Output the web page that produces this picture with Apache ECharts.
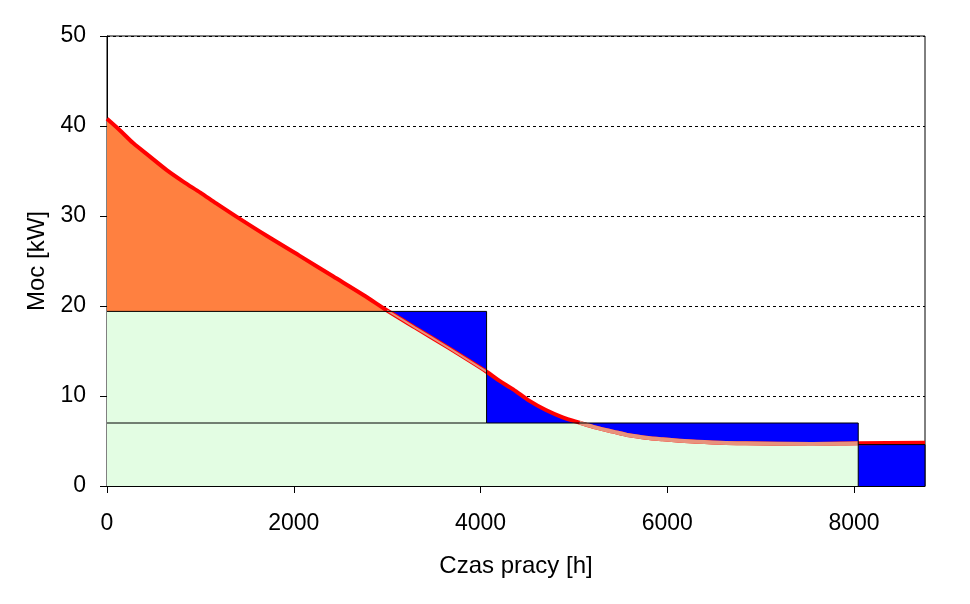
<!DOCTYPE html>
<html>
<head>
<meta charset="utf-8">
<script src="https://cdn.jsdelivr.net/npm/echarts@6/dist/echarts.min.js"></script>
<style>
html, body { margin: 0; padding: 0; background: #fff; }
#chart { width: 970px; height: 604px; }
</style>
</head>
<body>
<div id="chart"></div>
<script>
// uporządkowany wykres mocy (h -> kW)
var curveHours = [0, 140, 280, 460, 640, 820, 1000, 1170, 1390, 1710, 2060, 2420, 2750, 3000, 3300, 3650, 4065, 4200, 4350, 4520, 4700, 4880, 5060, 5240, 5420, 5590, 5770, 5950, 6130, 6310, 6840, 7550, 8045, 8760];
var curveKW = [40.8, 39.5, 38.1, 36.6, 35.1, 33.8, 32.6, 31.4, 29.9, 27.8, 25.6, 23.3, 21.2, 19.5, 17.6, 15.4, 12.7, 11.7, 10.74, 9.48, 8.44, 7.63, 7.04, 6.48, 6.04, 5.63, 5.37, 5.19, 5.04, 4.93, 4.74, 4.67, 4.74, 4.8];

// schodki mocy zamówionej
var stepEdges = [0, 4065, 8045, 8760];
var stepKW = [19.4, 7.0, 4.6];
var greenEnd = 8045;      // koniec zielonego pola
var orangeEnd = 3000;     // krzywa schodzi poniżej pierwszego schodka
var lowCross = 5060;      // krzywa schodzi poniżej drugiego schodka

var xTicks = { min: 0, max: 8760, interval: 2000 };
var yTicks = { min: 0, max: 50, interval: 10 };

var FONT = "'Liberation Sans', Arial, sans-serif";
var SMOOTH = 0.3;

function stepIndex(h) {
	for (var i = 0; i < stepKW.length; i++) {
		if (h < stepEdges[i + 1]) return i;
	}
	return stepKW.length - 1;
}

var curvePts = curveHours.map(function(h, i) { return [h, curveKW[i]]; });

var stepPts = [];
for (var i = 0; i < stepKW.length; i++) {
	stepPts.push([stepEdges[i], stepKW[i]], [stepEdges[i + 1], stepKW[i]]);
}

var orangePts = curvePts.filter(function(p) { return p[0] <= orangeEnd; });

// zielone pole = min(krzywa, schodek) do greenEnd
var greenPts = [];
curvePts.forEach(function(p) {
	var h = p[0], v = p[1];
	if (h > greenEnd) return;
	var k = stepEdges.indexOf(h);
	if (k > 0 && h < greenEnd) {
		greenPts.push([h, Math.min(v, stepKW[k - 1])], [h, Math.min(v, stepKW[k])]);
	} else if (h === greenEnd) {
		greenPts.push([h, Math.min(v, stepKW[stepIndex(h) - 1])], [h, 0]);
	} else {
		greenPts.push([h, Math.min(v, stepKW[stepIndex(h)])]);
	}
});

// łososiowa krawędź zielonego pola tam, gdzie idzie po krzywej
var edgeA = curvePts.filter(function(p) { return p[0] >= orangeEnd && p[0] <= stepEdges[1]; });
var edgeB = curvePts.filter(function(p) { return p[0] >= lowCross && p[0] <= greenEnd; });

var outline1 = [[0, stepKW[0]], [stepEdges[1], stepKW[0]], [stepEdges[1], stepKW[1]], [stepEdges[2], stepKW[1]], [stepEdges[2], 0]];
var outline2 = [[0, stepKW[1]], [stepEdges[1], stepKW[1]]];
var outline3 = [[stepEdges[2], stepKW[2]], [stepEdges[3], stepKW[2]], [stepEdges[3], 0]];

function area(name, data, color, smooth) {
	return {
		name: name, type: 'line', data: data, symbol: 'none', silent: true,
		smooth: smooth || false,
		lineStyle: { width: 0 }, areaStyle: { color: color, opacity: 1 }
	};
}
function line(name, data, color, width, smooth) {
	return {
		name: name, type: 'line', data: data, symbol: 'none', silent: true,
		smooth: smooth || false,
		lineStyle: { color: color, width: width }
	};
}

var chart = echarts.init(document.getElementById('chart'));

chart.setOption({
	animation: false,
	backgroundColor: '#fff',
	textStyle: { fontFamily: FONT },
	grid: {
		left: 107, right: 45, top: 36, bottom: 118,
		show: true, borderColor: '#000', borderWidth: 1, backgroundColor: 'transparent'
	},
	xAxis: {
		type: 'value', min: xTicks.min, max: xTicks.max, interval: xTicks.interval,
		name: 'Czas pracy [h]', nameLocation: 'middle', nameGap: 68,
		nameTextStyle: { fontSize: 24, color: '#000', fontFamily: FONT },
		axisLine: { show: true, lineStyle: { color: '#000', width: 1 } },
		axisTick: { show: true, length: 7, lineStyle: { color: '#000' } },
		axisLabel: {
			fontSize: 23, color: '#000', margin: 26, showMaxLabel: false, fontFamily: FONT,
			formatter: function(v) { return String(v); }
		},
		splitLine: { show: false }
	},
	yAxis: {
		type: 'value', min: yTicks.min, max: yTicks.max, interval: yTicks.interval,
		name: 'Moc [kW]', nameLocation: 'middle', nameGap: 58, nameRotate: 90,
		nameTextStyle: { fontSize: 24, color: '#000', fontFamily: FONT },
		axisLine: { show: true, lineStyle: { color: '#000', width: 1 } },
		axisTick: { show: true, length: 7, lineStyle: { color: '#000' } },
		axisLabel: { fontSize: 23, color: '#000', margin: 21, fontFamily: FONT },
		splitLine: { show: true, lineStyle: { color: '#000', width: 1, type: [3, 3] } }
	},
	series: [
		area('niebieskie krzywa', curvePts, '#0000FF', SMOOTH),
		area('niebieskie schodki', stepPts, '#0000FF'),
		area('pomarańczowe', orangePts, '#FF8040', SMOOTH),
		area('zielone', greenPts, '#E3FDE3'),
		line('moc', curvePts, '#FF0000', 4, SMOOTH),
		line('krawędź A', edgeA, '#E8927C', 2, SMOOTH),
		line('krawędź B', edgeB, '#E8927C', 4, SMOOTH),
		line('obrys 1', outline1, '#000', 1),
		line('obrys 2', outline2, '#000', 1),
		line('obrys 3', outline3, '#000', 1)
	]
});
</script>
</body>
</html>
